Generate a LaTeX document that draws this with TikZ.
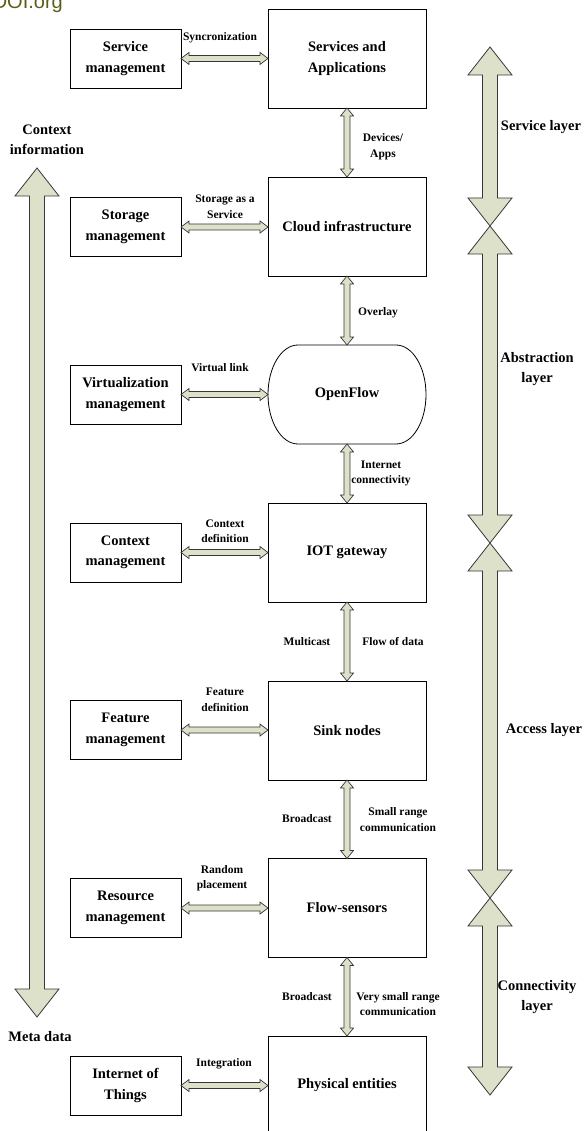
\documentclass[tikz,border=0pt]{standalone}
\usepackage{fontspec}
\setmainfont{Liberation Serif}
\newfontfamily\markfont{Liberation Sans}
\usetikzlibrary{calc}

\definecolor{sage}{RGB}{221,225,202}
\definecolor{edgegray}{RGB}{55,55,55}
\definecolor{olive}{RGB}{92,92,28}

\tikzset{
  boxline/.style={draw=black, line width=0.8pt},
  mainbox/.style={boxline, minimum width=158pt, minimum height=99pt, outer sep=0pt,
    inner sep=2pt, align=center, font=\fontsize{14.5}{20.5}\selectfont\bfseries},
  sidebox/.style={boxline, minimum width=111pt, minimum height=59pt, outer sep=0pt,
    inner sep=2pt, align=center, font=\fontsize{14.5}{20.5}\selectfont\bfseries},
  lbl/.style={inner sep=0pt, align=center, font=\fontsize{11.5}{15.5}\selectfont\bfseries},
  biglbl/.style={inner sep=0pt, align=center, font=\fontsize{14.5}{20}\selectfont\bfseries},
  conn/.style={fill=sage, draw=edgegray, line width=0.7pt, line join=miter},
  bigconn/.style={fill=sage, draw=edgegray, line width=0.8pt, line join=miter},
}

% vertical hollow double arrow: #1 style, #2 top point, #3 bottom point,
% #4 shaft half width, #5 head half width, #6 head length
\newcommand\vdouble[6]{%
  \filldraw[#1] let \p1=(#2), \p2=(#3) in
    (\x1,\y1) -- (\x1+#5,\y1-#6) -- (\x1+#4,\y1-#6) -- (\x1+#4,\y2+#6)
    -- (\x1+#5,\y2+#6) -- (\x1,\y2) -- (\x1-#5,\y2+#6) -- (\x1-#4,\y2+#6)
    -- (\x1-#4,\y1-#6) -- (\x1-#5,\y1-#6) -- cycle;}
% horizontal hollow double arrow between a left and a right point
\newcommand\hdouble[2]{%
  \filldraw[conn] let \p1=(#1), \p2=(#2) in
    (\x1,\y1) -- (\x1+8pt,\y1+6pt) -- (\x1+8pt,\y1+3pt) -- (\x2-8pt,\y1+3pt)
    -- (\x2-8pt,\y1+6pt) -- (\x2,\y1) -- (\x2-8pt,\y1-6pt) -- (\x2-8pt,\y1-3pt)
    -- (\x1+8pt,\y1-3pt) -- (\x1+8pt,\y1-6pt) -- cycle;}
\newcommand\vlink[2]{\vdouble{conn}{#1}{#2}{3pt}{6.5pt}{8pt}}
\newcommand\vbig[2]{\vdouble{bigconn}{#1}{#2}{7.5pt}{22pt}{28pt}}

\begin{document}
\begin{tikzpicture}[x=1pt, y=-1pt]
\useasboundingbox (0,0) rectangle (586,1131);

% watermark
\node[anchor=base east, inner sep=0pt, text=olive,
      font=\fontsize{20}{20}\markfont] (doi) at (63,9) {DOI.org};

% central stack
\node[mainbox] (svc) at (347,58.5) {Services and\\Applications};
\node[mainbox] (cloud) at (347,226.5) {Cloud infrastructure};
\node[mainbox, draw=none] (of) at (347,394.5) {OpenFlow};
\draw[boxline] ([xshift=30pt]of.north west) -- ([xshift=-30pt]of.north east)
  arc[start angle=90, end angle=-90, x radius=30pt, y radius=49.5pt]
  -- ([xshift=30pt]of.south west)
  arc[start angle=270, end angle=90, x radius=30pt, y radius=49.5pt] -- cycle;
\node[mainbox] (gw) at (347,552.5) {IOT gateway};
\node[mainbox] (sink) at (347,730.5) {Sink nodes};
\node[mainbox] (fs) at (347,908) {Flow-sensors};
\node[mainbox] (phy) at (347,1085.5) {Physical entities};

% management column
\node[sidebox] (msvc) at (125.5,58.5) {Service\\management};
\node[sidebox] (mstor) at (125.5,227) {Storage\\management};
\node[sidebox] (mvirt) at (125.5,394.5) {Virtualization\\management};
\node[sidebox] (mctx) at (125.5,552.5) {Context\\management};
\node[sidebox] (mfeat) at (125.5,730) {Feature\\management};
\node[sidebox] (mres) at (125.5,908) {Resource\\management};
\node[sidebox] (miot) at (125.5,1085.5) {Internet of\\Things};

% horizontal links
\hdouble{msvc.east}{svc.west|-msvc.east}
\hdouble{mstor.east}{cloud.west|-mstor.east}
\hdouble{mvirt.east}{of.west|-mvirt.east}
\hdouble{mctx.east}{gw.west|-mctx.east}
\hdouble{mfeat.east}{sink.west|-mfeat.east}
\hdouble{mres.east}{fs.west|-mres.east}
\hdouble{miot.east}{phy.west|-miot.east}

\node[lbl] (l1) at (220,38) {Syncronization};
\node[lbl] (l2) at (225,207) {Storage as a\\Service};
\node[lbl] (l3) at (220,368) {Virtual link};
\node[lbl] (l4) at (225,531) {Context\\definition};
\node[lbl] (l5) at (225,700) {Feature\\definition};
\node[lbl] (l6) at (222,878) {Random\\placement};
\node[lbl] (l7) at (224,1064) {Integration};

% vertical links
\vlink{svc.south}{cloud.north}
\vlink{cloud.south}{of.north}
\vlink{of.south}{gw.north}
\vlink{gw.south}{sink.north}
\vlink{sink.south}{fs.north}
\vlink{fs.south}{phy.north}

\node[lbl] (v1) at (383,146.5) {Devices/\\Apps};
\node[lbl] (v2) at (378,313) {Overlay};
\node[lbl] (v3) at (381,473.5) {Internet\\connectivity};
\node[lbl] (v4a) at (307,642) {Multicast};
\node[lbl] (v4b) at (393,642) {Flow of data};
\node[lbl] (v5a) at (307,819) {Broadcast};
\node[lbl] (v5b) at (398,819.5) {Small range\\communication};
\node[lbl] (v6a) at (307,997) {Broadcast};
\node[lbl] (v6b) at (398,1004) {Very small range\\communication};

% context / meta data arrow
\coordinate (ctxtop) at (37,168);
\coordinate (ctxbot) at (37,1017);
\vbig{ctxtop}{ctxbot}
\node[biglbl] (ctxl) at (47,140) {Context\\information};
\node[biglbl] (metal) at (40,1037) {Meta data};

% layer arrows
\coordinate (ly0) at (490,47);
\coordinate (ly1) at (490,226);
\coordinate (ly2) at (490,543);
\coordinate (ly3) at (490,898);
\coordinate (ly4) at (490,1095);
\vbig{ly0}{ly1}
\vbig{ly1}{ly2}
\vbig{ly2}{ly3}
\vbig{ly3}{ly4}
\node[biglbl] (lys) at (541,127) {Service layer};
\node[biglbl] (lya) at (537,369) {Abstraction\\layer};
\node[biglbl] (lyc) at (544,730) {Access layer};
\node[biglbl] (lyn) at (537,997) {Connectivity\\layer};
\end{tikzpicture}
\end{document}
